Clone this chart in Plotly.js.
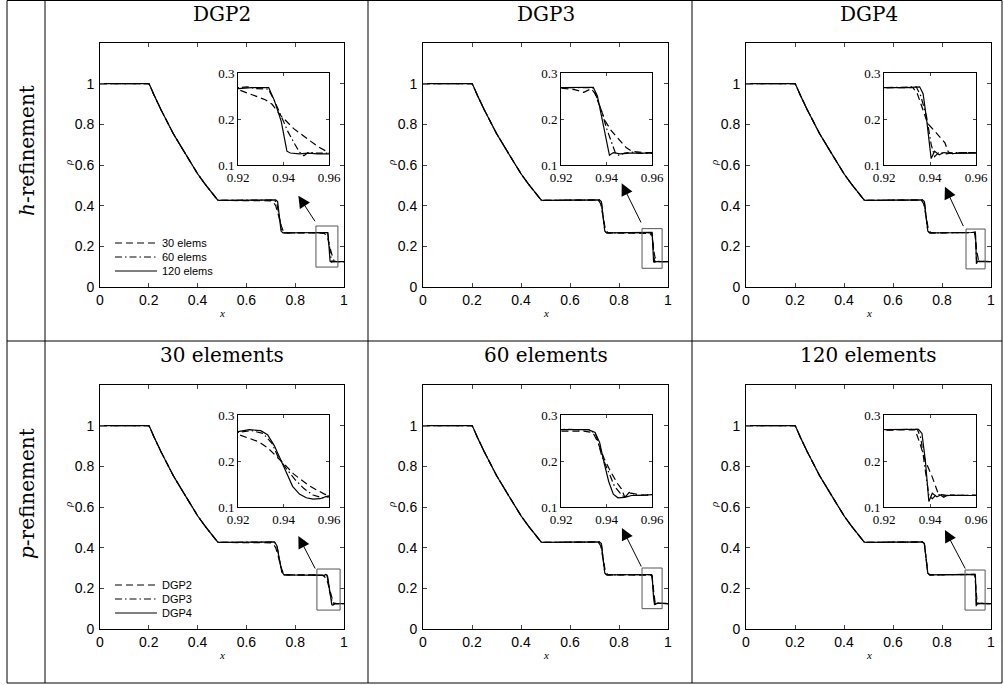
<!DOCTYPE html>
<html><head><meta charset="utf-8">
<script src="https://cdn.plot.ly/plotly-3.0.1.min.js"></script>
<style>html,body{margin:0;padding:0;background:#fff}#chart{width:1004px;height:685px}</style>
</head><body><div id="chart"></div>
<script>
// ---------------- data ----------------
const colTitlesTop = ['DGP2', 'DGP3', 'DGP4'];
const colTitlesBottom = ['30 elements', '60 elements', '120 elements'];
const rowLabels = ['<i>h</i>-refinement', '<i>p</i>-refinement'];
const hSeriesNames = ['30 elems', '60 elems', '120 elems'];
const pSeriesNames = ['DGP2', 'DGP3', 'DGP4'];
const mainTickVals = [0, 0.2, 0.4, 0.6, 0.8, 1];
const mainTickText = ['0', '0.2', '0.4', '0.6', '0.8', '1'];
const insetXTicks = [0.92, 0.94, 0.96];
const insetXText = ['0.92', '0.94', '0.96'];
const insetYTicks = [0.1, 0.2, 0.3];
const insetYText = ['0.1', '0.2', '0.3'];

// rarefaction part (shared by all curves)
const xRare = [0, 0.1, 0.19, 0.2, 0.205, 0.21, 0.22, 0.25, 0.273, 0.30, 0.341, 0.38, 0.40, 0.43, 0.45, 0.47, 0.482, 0.49, 0.55, 0.69];
const rhoRare = [1, 1, 1.002, 1.0, 0.99, 0.975, 0.948, 0.872, 0.815, 0.755, 0.673, 0.594, 0.557, 0.507, 0.475, 0.445, 0.428, 0.426, 0.426, 0.426];

// contact discontinuity, three resolutions
const xContactFine = [0.70, 0.72, 0.728, 0.735, 0.742, 0.75, 0.80, 0.89];
const rhoContactFine = [0.426, 0.428, 0.42, 0.33, 0.275, 0.266, 0.266, 0.266];
const xContactMid = [0.70, 0.715, 0.725, 0.735, 0.745, 0.755, 0.80, 0.89];
const rhoContactMid = [0.426, 0.428, 0.41, 0.34, 0.28, 0.266, 0.266, 0.266];
const xContactCoarse = [0.70, 0.71, 0.72, 0.73, 0.74, 0.75, 0.76, 0.89];
const rhoContactCoarse = [0.424, 0.418, 0.40, 0.36, 0.31, 0.278, 0.266, 0.266];

// shock region, DGP2 (h-refinement)
const p1e30X = [0.90, 0.915, 0.92, 0.924, 0.928, 0.932, 0.935, 0.9387, 0.9445, 0.951, 0.9554, 0.96, 0.965, 0.97, 1.0];
const p1e30R = [0.266, 0.265, 0.264, 0.257, 0.249, 0.242, 0.232, 0.208, 0.179, 0.154, 0.139, 0.127, 0.124, 0.125, 0.125];
const p1e60X = [0.90, 0.92, 0.924, 0.928, 0.9333, 0.936, 0.939, 0.942, 0.945, 0.947, 0.949, 0.951, 0.954, 0.96, 1.0];
const p1e60R = [0.266, 0.268, 0.27, 0.266, 0.265, 0.24, 0.205, 0.172, 0.145, 0.128, 0.12, 0.128, 0.126, 0.125, 0.125];
const p1e120X = [0.90, 0.92, 0.926, 0.9335, 0.936, 0.939, 0.9415, 0.943, 0.947, 0.951, 0.955, 0.96, 1.0];
const p1e120R = [0.266, 0.266, 0.268, 0.268, 0.24, 0.195, 0.13, 0.126, 0.124, 0.126, 0.124, 0.125, 0.125];

// shock region, DGP3 (h-refinement)
const p2e30X = [0.90, 0.92, 0.926, 0.930, 0.9333, 0.935, 0.937, 0.9395, 0.942, 0.944, 0.9466, 0.9486, 0.951, 0.956, 0.96, 0.97, 1.0];
const p2e30R = [0.266, 0.267, 0.264, 0.258, 0.266, 0.255, 0.228, 0.195, 0.175, 0.163, 0.149, 0.138, 0.130, 0.127, 0.126, 0.125, 0.125];
const p2e60X = [0.90, 0.92, 0.934, 0.9355, 0.938, 0.940, 0.942, 0.944, 0.9455, 0.948, 0.951, 0.955, 0.96, 1.0];
const p2e60R = [0.266, 0.268, 0.268, 0.25, 0.215, 0.18, 0.15, 0.125, 0.121, 0.126, 0.128, 0.125, 0.125, 0.125];
const p2e120X = [0.90, 0.92, 0.9342, 0.936, 0.938, 0.9405, 0.9413, 0.943, 0.946, 0.95, 0.955, 0.96, 1.0];
const p2e120R = [0.266, 0.268, 0.269, 0.25, 0.20, 0.14, 0.121, 0.127, 0.124, 0.126, 0.125, 0.125, 0.125];

// shock region, DGP4 (h-refinement)
const p3e30X = [0.90, 0.92, 0.9326, 0.9345, 0.9365, 0.939, 0.942, 0.9465, 0.948, 0.950, 0.953, 0.96, 1.0];
const p3e30R = [0.266, 0.268, 0.268, 0.255, 0.225, 0.19, 0.174, 0.148, 0.128, 0.124, 0.127, 0.126, 0.125];
const p3e60X = [0.90, 0.92, 0.934, 0.936, 0.9385, 0.9405, 0.942, 0.944, 0.947, 0.95, 0.96, 1.0];
const p3e60R = [0.266, 0.268, 0.27, 0.25, 0.205, 0.145, 0.118, 0.128, 0.124, 0.127, 0.126, 0.125];
const p3e120X = [0.90, 0.92, 0.93, 0.9355, 0.937, 0.9385, 0.9405, 0.942, 0.944, 0.946, 0.95, 0.96, 1.0];
const p3e120R = [0.266, 0.268, 0.268, 0.27, 0.255, 0.20, 0.114, 0.13, 0.122, 0.127, 0.125, 0.126, 0.125];

// shock region, 30 elements (p-refinement)
const p4g2X = [0.90, 0.91, 0.92, 0.925, 0.929, 0.933, 0.9375, 0.941, 0.9444, 0.948, 0.951, 0.955, 0.958, 0.961, 0.97, 1.0];
const p4g2R = [0.266, 0.265, 0.258, 0.25, 0.242, 0.229, 0.208, 0.19, 0.172, 0.158, 0.147, 0.136, 0.128, 0.124, 0.125, 0.125];
const p4g3X = [0.90, 0.91, 0.92, 0.926, 0.931, 0.935, 0.9375, 0.941, 0.945, 0.949, 0.953, 0.957, 0.96, 0.965, 1.0];
const p4g3R = [0.266, 0.265, 0.262, 0.266, 0.26, 0.238, 0.21, 0.185, 0.16, 0.14, 0.126, 0.12, 0.122, 0.125, 0.125];
const p4g4X = [0.90, 0.91, 0.92, 0.925, 0.930, 0.933, 0.936, 0.9385, 0.941, 0.944, 0.947, 0.950, 0.953, 0.956, 0.959, 0.962, 0.97, 1.0];
const p4g4R = [0.266, 0.265, 0.264, 0.268, 0.266, 0.257, 0.233, 0.205, 0.175, 0.145, 0.128, 0.12, 0.117, 0.118, 0.123, 0.127, 0.125, 0.125];

// shock region, 60 elements (p-refinement)
const p5g2X = [0.90, 0.92, 0.93, 0.934, 0.936, 0.939, 0.942, 0.945, 0.9465, 0.948, 0.951, 0.955, 0.96, 1.0];
const p5g2R = [0.266, 0.266, 0.265, 0.262, 0.243, 0.205, 0.175, 0.15, 0.14, 0.122, 0.13, 0.126, 0.126, 0.125];
const p5g3X = [0.90, 0.92, 0.933, 0.9355, 0.938, 0.941, 0.9435, 0.946, 0.948, 0.950, 0.952, 0.96, 1.0];
const p5g3R = [0.266, 0.269, 0.268, 0.255, 0.21, 0.175, 0.145, 0.13, 0.12, 0.132, 0.125, 0.127, 0.125];
const p5g4X = [0.90, 0.92, 0.932, 0.935, 0.937, 0.939, 0.941, 0.943, 0.945, 0.948, 0.951, 0.955, 0.96, 1.0];
const p5g4R = [0.266, 0.268, 0.268, 0.262, 0.24, 0.195, 0.155, 0.128, 0.12, 0.121, 0.125, 0.125, 0.127, 0.125];

// shock region, 120 elements (p-refinement)
const p6g2X = [0.90, 0.92, 0.9335, 0.9355, 0.938, 0.941, 0.9435, 0.946, 0.948, 0.952, 0.96, 1.0];
const p6g2R = [0.266, 0.267, 0.268, 0.24, 0.2, 0.165, 0.13, 0.121, 0.127, 0.125, 0.126, 0.125];
const p6g3X = [0.90, 0.92, 0.9345, 0.936, 0.938, 0.9395, 0.941, 0.943, 0.946, 0.95, 0.96, 1.0];
const p6g3R = [0.266, 0.268, 0.269, 0.25, 0.18, 0.125, 0.118, 0.128, 0.124, 0.126, 0.125, 0.125];
const p6g4X = [0.90, 0.92, 0.935, 0.9365, 0.938, 0.9395, 0.941, 0.943, 0.945, 0.948, 0.96, 1.0];
const p6g4R = [0.266, 0.268, 0.269, 0.26, 0.20, 0.112, 0.13, 0.122, 0.127, 0.125, 0.126, 0.125];

// ---------------- layout geometry (pixels) ----------------
const W = 1004, H = 685;
const colPx = [[100, 344], [423, 668], [746, 991]];
const rowPx = [[43, 287], [385, 629]];
const insetColPx = [[238, 329], [561, 652], [884, 976]];
const insetRowPx = [[73, 165], [415, 507]];
const zoomBoxes = [[0.885, 0.975, 0.098, 0.300], [0.894, 0.976, 0.092, 0.287], [0.898, 0.976, 0.089, 0.285],
                   [0.889, 0.984, 0.093, 0.295], [0.894, 0.976, 0.100, 0.300], [0.894, 0.976, 0.093, 0.290]];
const arrows = [[0.813, 0.449, 0.885, 0.316], [0.811, 0.510, 0.893, 0.310], [0.812, 0.493, 0.890, 0.292],
                [0.813, 0.457, 0.885, 0.290], [0.812, 0.497, 0.894, 0.300], [0.812, 0.487, 0.898, 0.290]];

const fx = p => p / W;
const fy = p => 1 - p / H;

const dashes = ['7px,4px', '7px,3px,1.5px,3px', 'solid'];

const contacts = {
  fine: [xContactFine, rhoContactFine],
  mid: [xContactMid, rhoContactMid],
  coarse: [xContactCoarse, rhoContactCoarse]
};
const panelSeries = [
  [['coarse', p1e30X, p1e30R], ['mid', p1e60X, p1e60R], ['fine', p1e120X, p1e120R]],
  [['mid', p2e30X, p2e30R], ['fine', p2e60X, p2e60R], ['fine', p2e120X, p2e120R]],
  [['mid', p3e30X, p3e30R], ['fine', p3e60X, p3e60R], ['fine', p3e120X, p3e120R]],
  [['coarse', p4g2X, p4g2R], ['mid', p4g3X, p4g3R], ['mid', p4g4X, p4g4R]],
  [['mid', p5g2X, p5g2R], ['fine', p5g3X, p5g3R], ['fine', p5g4X, p5g4R]],
  [['fine', p6g2X, p6g2R], ['fine', p6g3X, p6g3R], ['fine', p6g4X, p6g4R]]
];

const traces = [];
const layout = {
  width: W, height: H, margin: {l: 0, r: 0, t: 0, b: 0},
  paper_bgcolor: '#fff', plot_bgcolor: '#fff', showlegend: false,
  font: {family: 'Liberation Sans, Arial, sans-serif', color: '#000'},
  annotations: [], shapes: []
};

const tickFontMain = {family: 'Liberation Sans, Arial, sans-serif', size: 14, color: '#000'};
const tickFontInset = {family: 'Liberation Serif, Times New Roman, serif', size: 13, color: '#000'};

for (let i = 0; i < 6; i++) {
  const r = Math.floor(i / 3), c = i % 3;
  const m = i + 1, n = i + 7;
  const mk = m === 1 ? '' : String(m);
  const nk = String(n);
  layout['xaxis' + mk] = {
    domain: [fx(colPx[c][0]), fx(colPx[c][1])], anchor: 'y' + mk, range: [0, 1],
    tickvals: mainTickVals, ticktext: mainTickText, ticks: 'inside', ticklen: 4,
    showline: true, linecolor: '#000', linewidth: 1, mirror: 'ticks', showgrid: false, zeroline: false,
    tickfont: tickFontMain, fixedrange: true
  };
  layout['yaxis' + mk] = {
    domain: [fy(rowPx[r][1]), fy(rowPx[r][0])], anchor: 'x' + mk, range: [0, 1.2],
    tickvals: mainTickVals, ticktext: mainTickText, ticks: 'inside', ticklen: 4,
    showline: true, linecolor: '#000', linewidth: 1, mirror: 'ticks', showgrid: false, zeroline: false,
    tickfont: tickFontMain, ticklabelstandoff: 2, fixedrange: true
  };
  layout['xaxis' + nk] = {
    domain: [fx(insetColPx[c][0]), fx(insetColPx[c][1])], anchor: 'y' + nk, range: [0.92, 0.96],
    tickvals: insetXTicks, ticktext: insetXText, ticks: 'inside', ticklen: 3,
    showline: true, linecolor: '#000', linewidth: 1, mirror: 'ticks', showgrid: false, zeroline: false,
    tickfont: tickFontInset, fixedrange: true
  };
  layout['yaxis' + nk] = {
    domain: [fy(insetRowPx[r][1]), fy(insetRowPx[r][0])], anchor: 'x' + nk, range: [0.1, 0.3],
    tickvals: insetYTicks, ticktext: insetYText, ticks: 'inside', ticklen: 3,
    showline: true, linecolor: '#000', linewidth: 1, mirror: 'ticks', showgrid: false, zeroline: false,
    tickfont: tickFontInset, fixedrange: true
  };

  panelSeries[i].forEach((s, k) => {
    const ct = contacts[s[0]];
    const xs = xRare.concat(ct[0], s[1]);
    const ys = rhoRare.concat(ct[1], s[2]);
    const line = {color: '#000', width: 1.2, dash: dashes[k]};
    traces.push({type: 'scatter', mode: 'lines', x: xs, y: ys, xaxis: 'x' + mk, yaxis: 'y' + mk, line, hoverinfo: 'skip'});
    traces.push({type: 'scatter', mode: 'lines', x: xs, y: ys, xaxis: 'x' + nk, yaxis: 'y' + nk, line, hoverinfo: 'skip'});
  });

  const zb = zoomBoxes[i];
  layout.shapes.push({type: 'rect', xref: 'x' + mk, yref: 'y' + mk, x0: zb[0], x1: zb[1], y0: zb[2], y1: zb[3],
    line: {color: '#555', width: 1}});
  const a = arrows[i];
  layout.annotations.push({xref: 'x' + mk, yref: 'y' + mk, axref: 'x' + mk, ayref: 'y' + mk,
    x: a[0], y: a[1], ax: a[2], ay: a[3], text: '', showarrow: true,
    arrowhead: 2, arrowsize: 2.4, arrowwidth: 1, arrowcolor: '#000', standoff: 0, startstandoff: 0});

  const cx = (colPx[c][0] + colPx[c][1]) / 2;
  layout.annotations.push({xref: 'paper', yref: 'paper', x: fx(cx), y: fy(r === 0 ? 14 : 355),
    xanchor: 'center', yanchor: 'middle', showarrow: false,
    text: r === 0 ? colTitlesTop[c] : colTitlesBottom[c],
    font: {family: 'DejaVu Serif, serif', size: 20, color: '#000'}});
  layout.annotations.push({xref: 'paper', yref: 'paper', x: fx(cx), y: fy(rowPx[r][1] + 26),
    xanchor: 'center', yanchor: 'middle', showarrow: false, text: '<i>x</i>',
    font: {family: 'Liberation Serif, serif', size: 11, color: '#000'}});
  layout.annotations.push({xref: 'paper', yref: 'paper', x: fx(colPx[c][0] - 32), y: fy((rowPx[r][0] + rowPx[r][1]) / 2 - 2),
    xanchor: 'center', yanchor: 'middle', showarrow: false, text: '<i>ρ</i>', textangle: -90,
    font: {family: 'Liberation Serif, serif', size: 11, color: '#000'}});
}

const legendRows = [[243, 257, 271], [585, 599, 613]];
const legendNames = [hSeriesNames, pSeriesNames];
for (let r = 0; r < 2; r++) {
  for (let k = 0; k < 3; k++) {
    const yy = legendRows[r][k];
    layout.shapes.push({type: 'line', xref: 'paper', yref: 'paper', x0: fx(115), x1: fx(157), y0: fy(yy), y1: fy(yy),
      line: {color: '#000', width: 1, dash: dashes[k]}});
    layout.annotations.push({xref: 'paper', yref: 'paper', x: fx(160), y: fy(yy), xanchor: 'left', yanchor: 'middle',
      showarrow: false, text: legendNames[r][k], font: {family: 'Liberation Sans, Arial, sans-serif', size: 11, color: '#000'}});
  }
  layout.annotations.push({xref: 'paper', yref: 'paper', x: fx(27), y: fy(r === 0 ? 151 : 494), xanchor: 'center', yanchor: 'middle',
    showarrow: false, text: rowLabels[r], textangle: -90, font: {family: 'DejaVu Serif, serif', size: 20, color: '#000'}});
}

const tableLines = [
  [7, 0.5, 1002, 0.5], [7, 341, 1002, 341], [7, 683, 1002, 683],
  [7, 0.5, 7, 683], [45, 0.5, 45, 683], [368, 0.5, 368, 683], [692, 0.5, 692, 683], [1002, 0.5, 1002, 683]
];
tableLines.forEach(t => layout.shapes.push({type: 'line', xref: 'paper', yref: 'paper',
  x0: fx(t[0]), y0: fy(t[1]), x1: fx(t[2]), y1: fy(t[3]), line: {color: '#000', width: 1}}));

Plotly.newPlot('chart', traces, layout, {staticPlot: true, displayModeBar: false});
</script></body></html>
